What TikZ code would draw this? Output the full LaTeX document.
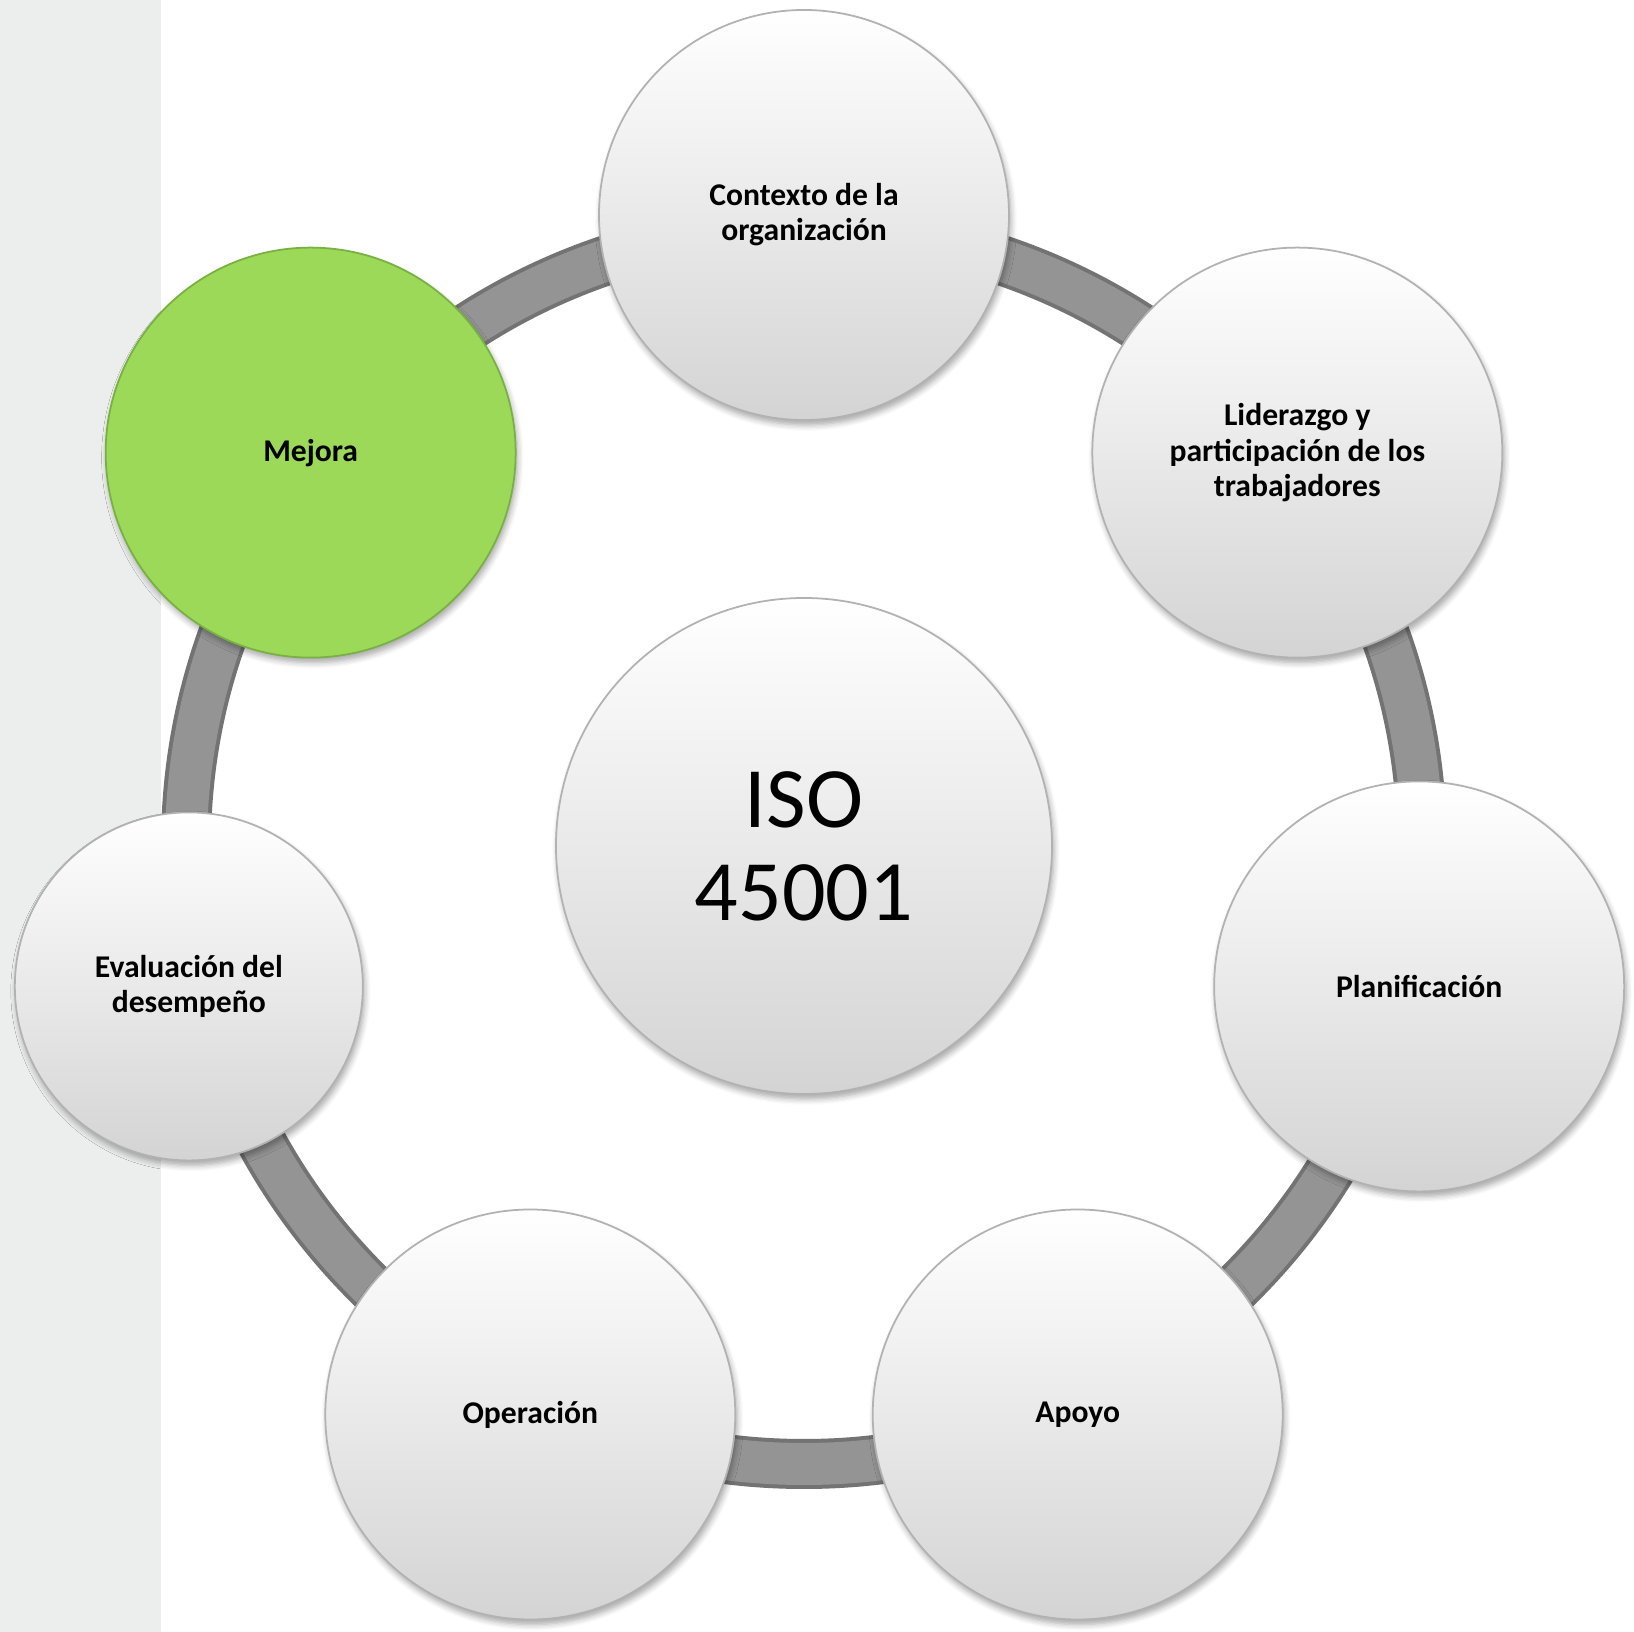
\documentclass[tikz,border=0pt]{standalone}
\usepackage{fontspec}
\setmainfont{Carlito}
\usetikzlibrary{shadows,shadows.blur}
\definecolor{StripClr}{rgb}{0.925,0.933,0.929}
\definecolor{RingClr}{rgb}{0.58,0.58,0.58}
\definecolor{RingEdgeClr}{rgb}{0.45,0.45,0.45}
\definecolor{BubbleClr}{rgb}{0.83,0.83,0.83}
\definecolor{EdgeClr}{rgb}{0.70,0.70,0.70}
\definecolor{GreenClr}{rgb}{0.61,0.85,0.35}
\definecolor{GreenEdgeClr}{rgb}{0.47,0.69,0.26}
\tikzset{
  bubble/.style={circle,inner sep=0pt,minimum size=4.1cm,align=center,
    top color=white,bottom color=BubbleClr,draw=EdgeClr,line width=.5pt,
    blur shadow={shadow xshift=.02cm,shadow yshift=-.05cm,shadow blur radius=.06cm,
      shadow blur steps=5,shadow opacity=35}},
  greenbubble/.style={bubble,fill=GreenClr,top color=GreenClr,bottom color=GreenClr,draw=GreenEdgeClr}
}

\begin{document}
\begin{tikzpicture}[font=\bfseries\fontsize{9}{10}\selectfont]
\useasboundingbox (-8.04,8.46) rectangle (8.30,-7.86);
\fill[StripClr] (-8.04,8.46) rectangle (-6.43,-7.86);

\coordinate (O) at (0,0);
\draw[RingEdgeClr,line width=.5cm] (O) circle (6.18);
\draw[RingClr,line width=.42cm] (O) circle (6.18);

\node[bubble] (ctx) at (90:6.31) {Contexto de la\\organización};
\node[bubble] (lid) at (38.57:6.31) {Liderazgo y\\participación de los\\trabajadores};
\node[bubble] (pla) at (-12.86:6.31) {Planificación};
\node[bubble] (apo) at (-64.29:6.31) {Apoyo};
\node[bubble] (ope) at (-115.71:6.31) {Operación};
\node[bubble,minimum size=3.48cm] (eva) at (-167.14:6.31) {Evaluación del\\desempeño};
\node[greenbubble] (mej) at (141.43:6.31) {Mejora};

\node[bubble,minimum size=4.96cm,font=\fontsize{24.5}{26.5}\selectfont] (iso) at (O) {ISO\\45001};

\end{tikzpicture}
\end{document}
